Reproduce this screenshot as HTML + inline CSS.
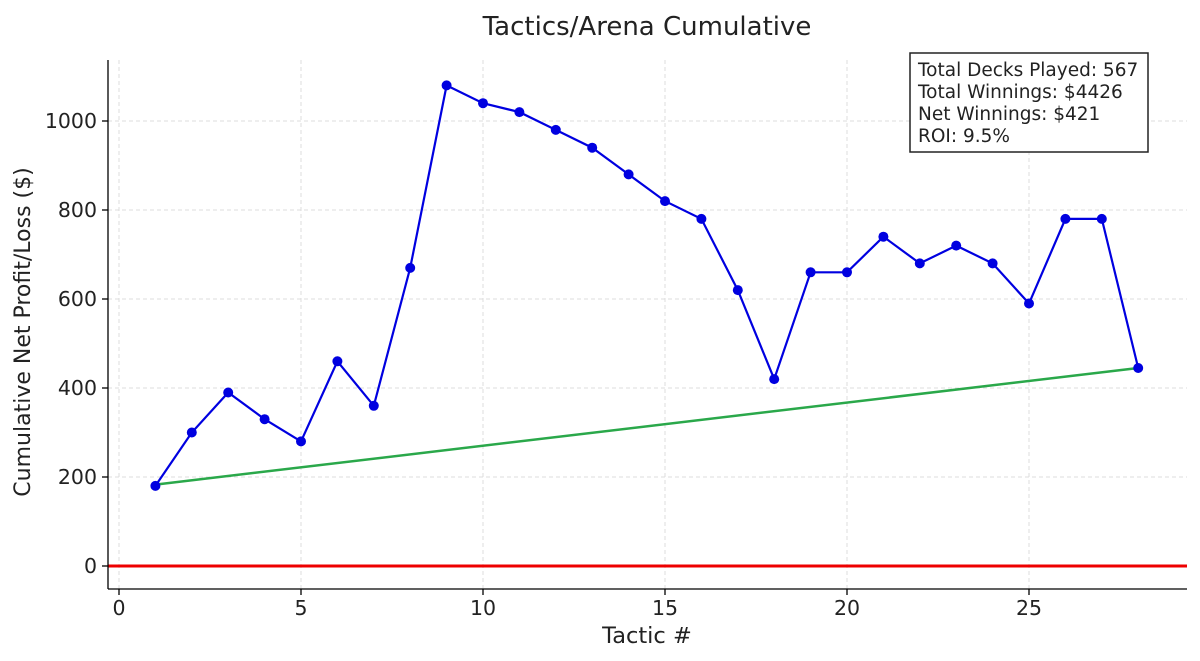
<!DOCTYPE html>
<html><head><meta charset="utf-8"><style>body{margin:0;background:#fff}svg{display:block}text{font-family:"DejaVu Sans","Liberation Sans",sans-serif;fill:#222}</style></head>
<body>
<svg width="1200" height="661" xmlns="http://www.w3.org/2000/svg">
<g stroke="#dcdcdc" stroke-dasharray="4,3" stroke-width="1">
<line x1="119" y1="60" x2="119" y2="589"/><line x1="301" y1="60" x2="301" y2="589"/><line x1="483" y1="60" x2="483" y2="589"/><line x1="665" y1="60" x2="665" y2="589"/><line x1="847" y1="60" x2="847" y2="589"/><line x1="1029" y1="60" x2="1029" y2="589"/>
<line x1="108" y1="477" x2="1187" y2="477"/><line x1="108" y1="388" x2="1187" y2="388"/><line x1="108" y1="299" x2="1187" y2="299"/><line x1="108" y1="210" x2="1187" y2="210"/><line x1="108" y1="121" x2="1187" y2="121"/>
</g>
<line x1="108" y1="566" x2="1187" y2="566" stroke="#ee0000" stroke-width="3"/>
<line x1="155.4" y1="484.6" x2="1138.2" y2="368" stroke="#2aa84a" stroke-width="2.5"/>
<polyline fill="none" stroke="#0000e0" stroke-width="2.2" points="155.4,485.9 191.8,432.5 228.2,392.5 264.6,419.2 301,441.4 337.4,361.3 373.8,405.8 410.2,267.9 446.6,85.4 483,103.2 519.4,112.1 555.8,129.9 592.2,147.7 628.6,174.4 665,201.1 701.4,218.9 737.8,290.1 774.2,379.1 810.6,272.3 847,272.3 883.4,236.7 919.8,263.4 956.2,245.6 992.6,263.4 1029,303.5 1065.4,218.9 1101.8,218.9 1138.2,368"/>
<g fill="#0000e0">
<circle cx="155.4" cy="485.9" r="5"/><circle cx="191.8" cy="432.5" r="5"/><circle cx="228.2" cy="392.5" r="5"/><circle cx="264.6" cy="419.2" r="5"/><circle cx="301" cy="441.4" r="5"/><circle cx="337.4" cy="361.3" r="5"/><circle cx="373.8" cy="405.8" r="5"/><circle cx="410.2" cy="267.9" r="5"/><circle cx="446.6" cy="85.4" r="5"/><circle cx="483" cy="103.2" r="5"/><circle cx="519.4" cy="112.1" r="5"/><circle cx="555.8" cy="129.9" r="5"/><circle cx="592.2" cy="147.7" r="5"/><circle cx="628.6" cy="174.4" r="5"/><circle cx="665" cy="201.1" r="5"/><circle cx="701.4" cy="218.9" r="5"/><circle cx="737.8" cy="290.1" r="5"/><circle cx="774.2" cy="379.1" r="5"/><circle cx="810.6" cy="272.3" r="5"/><circle cx="847" cy="272.3" r="5"/><circle cx="883.4" cy="236.7" r="5"/><circle cx="919.8" cy="263.4" r="5"/><circle cx="956.2" cy="245.6" r="5"/><circle cx="992.6" cy="263.4" r="5"/><circle cx="1029" cy="303.5" r="5"/><circle cx="1065.4" cy="218.9" r="5"/><circle cx="1101.8" cy="218.9" r="5"/><circle cx="1138.2" cy="368" r="5"/>
</g>
<g stroke="#000" stroke-width="1.3">
<line x1="108" y1="60" x2="108" y2="589"/><line x1="108" y1="589" x2="1187" y2="589"/>
<line x1="102" y1="566" x2="108" y2="566"/><line x1="102" y1="477" x2="108" y2="477"/><line x1="102" y1="388" x2="108" y2="388"/><line x1="102" y1="299" x2="108" y2="299"/><line x1="102" y1="210" x2="108" y2="210"/><line x1="102" y1="121" x2="108" y2="121"/>
<line x1="119" y1="589" x2="119" y2="595"/><line x1="301" y1="589" x2="301" y2="595"/><line x1="483" y1="589" x2="483" y2="595"/><line x1="665" y1="589" x2="665" y2="595"/><line x1="847" y1="589" x2="847" y2="595"/><line x1="1029" y1="589" x2="1029" y2="595"/>
</g>
<g font-size="20.5" text-anchor="end">
<text x="97" y="573">0</text><text x="97" y="484">200</text><text x="97" y="395">400</text><text x="97" y="306">600</text><text x="97" y="217">800</text><text x="97" y="128">1000</text>
</g>
<g font-size="20.5" text-anchor="middle">
<text x="119" y="615">0</text><text x="301" y="615">5</text><text x="483" y="615">10</text><text x="665" y="615">15</text><text x="847" y="615">20</text><text x="1029" y="615">25</text>
<text x="647" y="643" font-size="22.5">Tactic #</text>
<text x="647" y="35" font-size="26">Tactics/Arena Cumulative</text>
<text transform="translate(30,332) rotate(-90)" font-size="22">Cumulative Net Profit/Loss ($)</text>
</g>
<rect x="910" y="53" width="238" height="99" fill="#fff" stroke="#222" stroke-width="1.5"/>
<g font-size="18.5">
<text x="918" y="76">Total Decks Played: 567</text><text x="918" y="98">Total Winnings: $4426</text><text x="918" y="120">Net Winnings: $421</text><text x="918" y="142">ROI: 9.5%</text>
</g>
</svg>
</body></html>
